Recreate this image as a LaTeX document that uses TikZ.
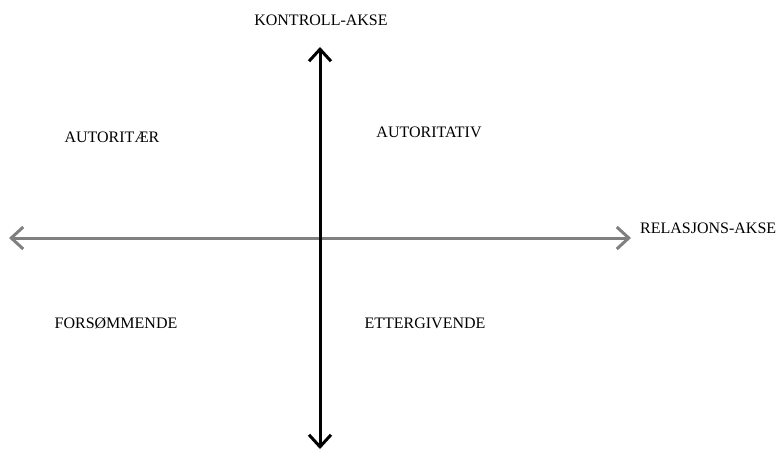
\documentclass[tikz,border=0pt]{standalone}
\usepackage{fontspec}
\setmainfont{Liberation Serif}
\usepackage{tikz}
\usetikzlibrary{arrows.meta,positioning}

\begin{document}
\begin{tikzpicture}[
    x=1pt, y=-1pt,
    lbl/.style={font=\fontsize{16}{19}\selectfont, inner sep=0pt},
    axis/.style={line width=3pt, {Straight Barb[length=12pt,width=22pt,line width=3pt]}-{Straight Barb[length=12pt,width=22pt,line width=3pt]}}
  ]
  \useasboundingbox (0,0) rectangle (776,452);

  %% Axis end points
  \coordinate (top) at (320,47);
  \coordinate (bot) at (320,449);
  \coordinate (lft) at (9,238);
  \coordinate (rgt) at (631,238);

  %% Axes
  \draw[axis, color=gray] (lft) -- (rgt);
  \draw[axis, color=black] (bot) -- (top);

  %% Axis labels
  \node[lbl] (kontroll) at (321,20) {KONTROLL-AKSE};
  \node[lbl, anchor=west] (relasjon) at (640,228) {RELASJONS-AKSE};

  %% Quadrants
  \node[lbl] (autoritaer) at (112,137) {AUTORITÆR};
  \node[lbl] (autoritativ) at (429,132) {AUTORITATIV};
  \node[lbl] (forsommende) at (116,323) {FORSØMMENDE};
  \node[lbl] (ettergivende) at (425,323) {ETTERGIVENDE};

\end{tikzpicture}
\end{document}
